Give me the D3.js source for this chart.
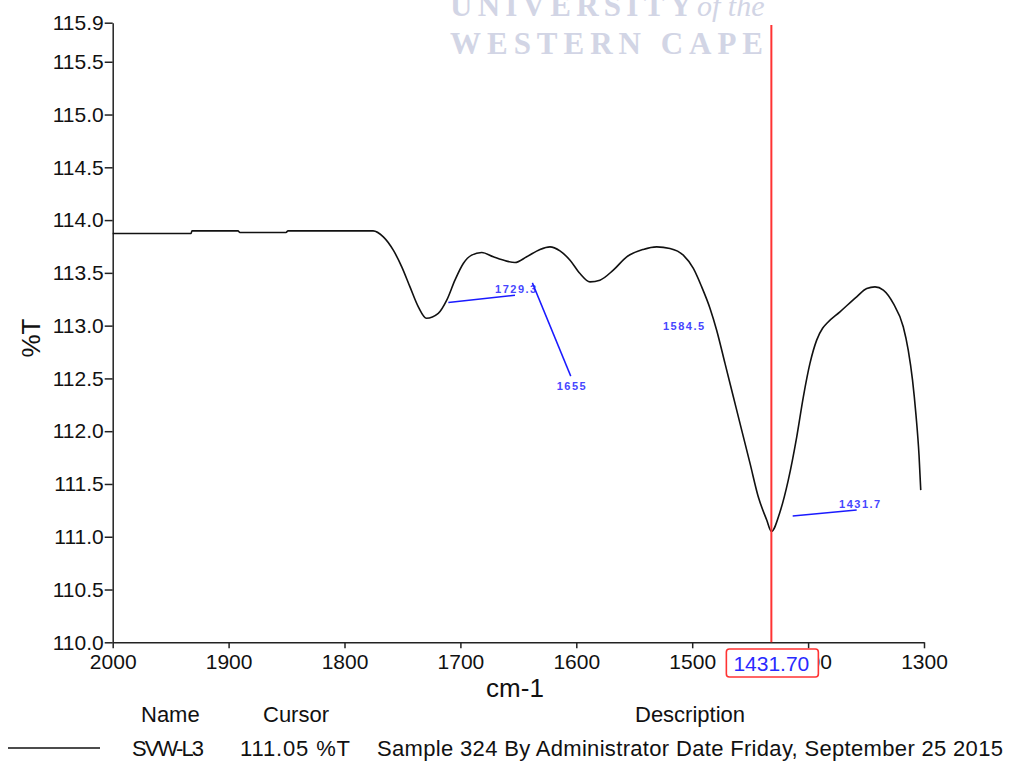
<!DOCTYPE html>
<html lang="en">
<head>
<meta charset="UTF-8">
<title>SVW-L3 IR spectrum</title>
<script src="https://cdn.jsdelivr.net/npm/d3@7"></script>
<style>
    body{margin:0;background:#fff;}
    svg{display:block;font-family:"Liberation Sans",Arial,sans-serif;}
    .axis text{font-size:21px;fill:#111;}
    .axis path,.axis line{stroke:#222;stroke-width:1.5;}
</style>
</head>
<body>
<svg width="1010" height="762"></svg>
<script>
// spectrum (cm-1 / %T)
var wavenumbers = [2000,1932.4,1931.6,1891.9,1890.2,1850.5,1848.7,1775.4,1766.5,1757.9,1750.6,1743.5,1736.3,1729.3,
    1719.1,1711.8,1704.7,1697.5,1690.3,1681.6,1671.6,1660.1,1652.9,1642.8,1631.3,1622.7,1614.1,1605.4,1596.8,1588.2,
    1579.6,1568.1,1556.5,1542.2,1530.6,1519.2,1507.7,1499,1491.8,1484.6,1478.9,1471.7,1464.5,1457.3,1450.1,1443,
    1435.7,1431.7,1424.2,1417.1,1409.8,1404.1,1398.4,1392.6,1387.5,1384,1372.5,1358.1,1349.4,1342.3,1335.1,1326.5,
    1317.9,1313.6,1309.9,1306.9,1304.3,1302.8];
var transmittance = [113.873,113.873,113.898,113.898,113.883,113.883,113.898,113.898,113.841,113.715,113.557,113.367,113.178,113.07,
    113.116,113.241,113.431,113.589,113.668,113.693,113.652,113.611,113.598,113.652,113.722,113.746,113.708,113.620,113.494,113.415,
    113.431,113.526,113.652,113.722,113.746,113.731,113.668,113.542,113.367,113.163,112.957,112.642,112.326,112.010,111.695,111.379,
    111.158,111.05,111.237,111.537,111.947,112.326,112.642,112.863,112.975,113.021,113.131,113.273,113.352,113.367,113.336,113.210,
    112.989,112.768,112.484,112.152,111.774,111.442];

var xTicks = [2000,1900,1800,1700,1600,1500,1400,1300];
var yTicks = [110,110.5,111,111.5,112,112.5,113,113.5,114,114.5,115,115.5,115.87];

// peak labels: text anchor (cm-1, %T) and optional leader line
var peakNames  = ["1729.3","1655","1584.5","1431.7"];
var peakTextAt = [[1670.1,113.313],[1616.9,112.389],[1525.2,112.957],[1373.3,111.277]];
var peakLeader = [[[1710.4,113.22],[1652.9,113.289]],[[1637.9,113.405],[1604.8,112.522]],null,[[1413.3,111.196],[1358.1,111.253]]];

var cursorX = 1431.70, cursorY = 111.05;
var sampleName = "SVW-L3";
var sampleDesc = "Sample 324 By Administrator Date Friday, September 25 2015";

var svg = d3.select('svg');

var x = d3.scaleLinear().domain([2000,1300]).range([112.7,924]);
var y = d3.scaleLinear().domain([110,115.87]).range([642.3,22.7]);

// watermark
var wm = svg.append('g').attr('fill','#d2d5e5').attr('font-family','"Liberation Serif","DejaVu Serif",serif').attr('font-weight','bold');
wm.append('text').attr('x',450).attr('y',16).attr('font-size',31).attr('textLength',242).attr('lengthAdjust','spacing').text('UNIVERSITY');
wm.append('text').attr('x',697).attr('y',16).attr('font-size',30).attr('font-style','italic').attr('font-weight','normal').text('of the');
wm.append('text').attr('x',450).attr('y',54).attr('font-size',31).attr('textLength',313).attr('lengthAdjust','spacing').text('WESTERN CAPE');

// axes
svg.append('g').attr('class','axis')
    .attr('transform','translate(' + x.range()[0] + ',0)')
    .call(d3.axisLeft(y).tickValues(yTicks).tickFormat(d3.format('.1f')).tickSize(8).tickPadding(1).tickSizeOuter(0));
svg.append('g').attr('class','axis')
    .attr('transform','translate(0,' + y.range()[0] + ')')
    .call(d3.axisBottom(x).tickValues(xTicks).tickFormat(d3.format('d')).tickSize(6).tickPadding(6).tickSizeOuter(0));

// spectrum line
var line = d3.line()
    .x(function(d){return x(d[0]);})
    .y(function(d){return y(d[1]);})
    .curve(d3.curveMonotoneX);
svg.append('path')
    .datum(d3.zip(wavenumbers, transmittance))
    .attr('fill','none').attr('stroke','#111').attr('stroke-width',1.6)
    .attr('d',line);

// peak labels
var pk = svg.append('g');
peakNames.forEach(function(n,i){
    var l = peakLeader[i];
    if(l){
        pk.append('line')
            .attr('x1',x(l[0][0])).attr('y1',y(l[0][1]))
            .attr('x2',x(l[1][0])).attr('y2',y(l[1][1]))
            .attr('stroke','#1a1aff').attr('stroke-width',1.5);
    }
    pk.append('text')
        .attr('x',x(peakTextAt[i][0])).attr('y',y(peakTextAt[i][1]))
        .attr('font-size',11).attr('font-weight','bold').attr('letter-spacing',1.5)
        .attr('fill','#4646ff').text(n);
});

// cursor
svg.append('line')
    .attr('x1',x(cursorX)).attr('x2',x(cursorX))
    .attr('y1',25).attr('y2',y(110))
    .attr('stroke','#ff3333').attr('stroke-width',2);
var cb = svg.append('g');
cb.append('rect')
    .attr('x',x(cursorX)-45).attr('y',649).attr('width',92).attr('height',28).attr('rx',3)
    .attr('fill','#fff').attr('stroke','#ff3333').attr('stroke-width',1.6);
cb.append('text')
    .attr('x',x(cursorX)).attr('y',671).attr('text-anchor','middle')
    .attr('font-size',21).attr('fill','#2a2aff').text(d3.format('.2f')(cursorX));

// axis titles
svg.append('text').attr('x',515).attr('y',697).attr('text-anchor','middle').attr('font-size',26).attr('fill','#111').text('cm-1');
svg.append('text').attr('transform','translate(40,338) rotate(-90)').attr('text-anchor','middle').attr('font-size',26).attr('fill','#111').text('%T');

// legend
var lg = svg.append('g').attr('font-size',22).attr('fill','#111');
lg.append('text').attr('x',141).attr('y',722).text('Name');
lg.append('text').attr('x',263).attr('y',722).text('Cursor');
lg.append('text').attr('x',635).attr('y',722).text('Description');
lg.append('line').attr('x1',8).attr('x2',100).attr('y1',748).attr('y2',748).attr('stroke','#111').attr('stroke-width',1.6);
lg.append('text').attr('x',132).attr('y',756).attr('textLength',72).text(sampleName);
lg.append('text').attr('x',240).attr('y',756).attr('textLength',110).text(d3.format('.2f')(cursorY) + ' %T');
lg.append('text').attr('x',377).attr('y',756).attr('textLength',626).text(sampleDesc);
</script>
</body>
</html>
